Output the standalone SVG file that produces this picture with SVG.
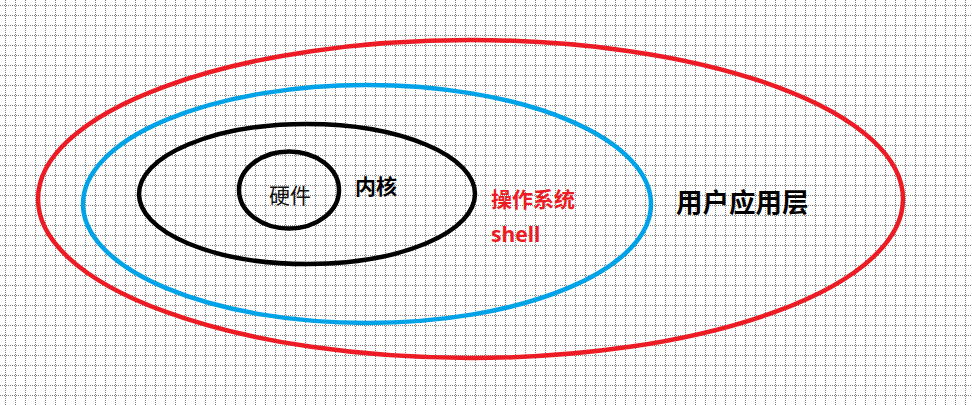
<svg xmlns="http://www.w3.org/2000/svg" width="972" height="405" viewBox="0 0 972 405">
<defs>
<pattern id="grid" patternUnits="userSpaceOnUse" width="10" height="10">
<path d="M5.5 0V10" stroke="#808080" stroke-width="1" stroke-dasharray="1 1" fill="none"/>
<path d="M0 5.5H10" stroke="#808080" stroke-width="1" stroke-dasharray="1 1" fill="none"/>
</pattern>
<style>
.ring{fill:none;stroke-width:4.5}
.red{stroke:#ED1C24}
.blue{stroke:#00A2E8}
.black{stroke:#000}
.t{font-family:"Noto Sans CJK SC","Noto Sans",sans-serif}
.b{font-weight:bold}
</style>
</defs>
<rect width="972" height="405" fill="#fff"/>
<rect width="972" height="405" fill="url(#grid)"/>
<g id="connectors"/>
<g id="user-app-layer">
<ellipse class="ring red" cx="470.5" cy="199" rx="432.5" ry="159"/>
<text class="t b" x="676" y="211.5" font-size="26.5" fill="#000">用户应用层</text>
</g>
<g id="os-shell">
<ellipse class="ring blue" cx="367" cy="204" rx="284" ry="119"/>
<text class="t b" x="491" y="207" font-size="21" fill="#ED1C24">操作系统</text>
<text class="b" x="491" y="242" font-size="21" fill="#ED1C24" font-family="'Noto Sans',sans-serif">shell</text>
</g>
<g id="kernel">
<ellipse class="ring black" cx="307" cy="194" rx="168" ry="70"/>
<text class="t b" x="355" y="193.5" font-size="21" fill="#000">内核</text>
</g>
<g id="hardware">
<ellipse class="ring black" cx="289" cy="190" rx="50" ry="38.5"/>
<text class="t" x="269" y="202.5" font-size="21" fill="#111">硬件</text>
</g>
</svg>
